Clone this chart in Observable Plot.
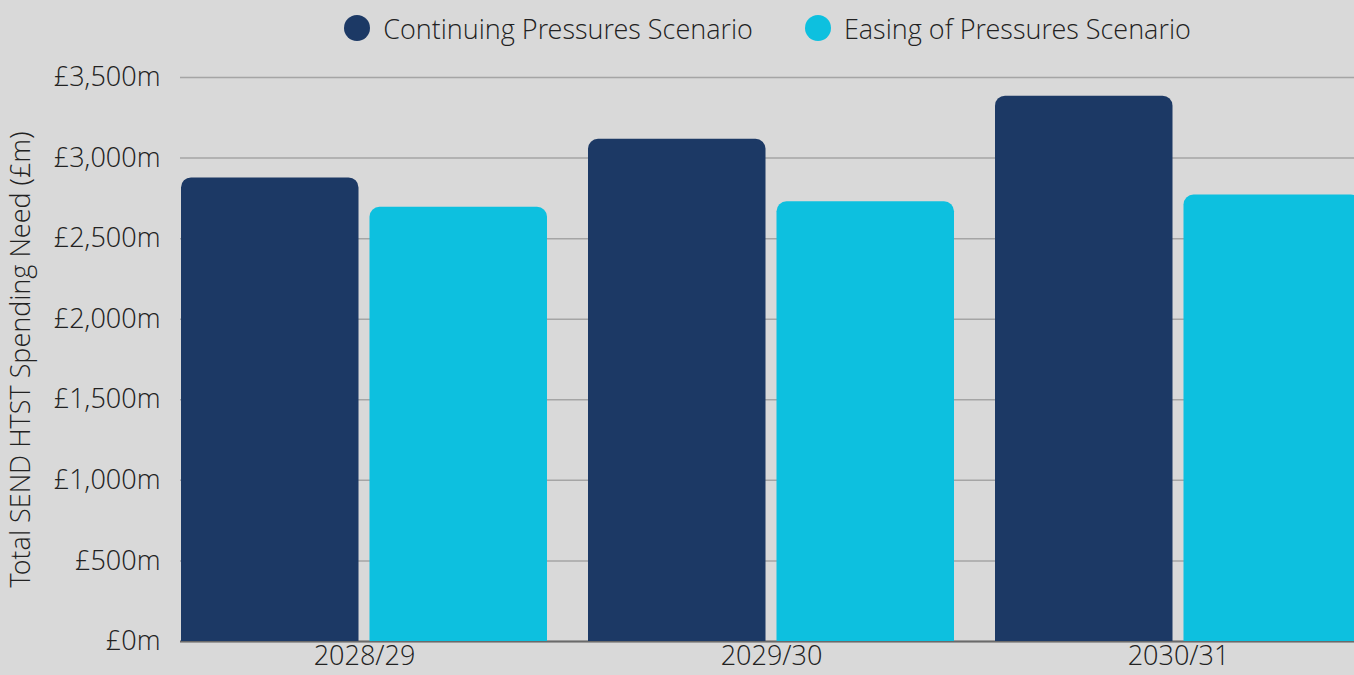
<!DOCTYPE html>
<html>
<head>
<meta charset="utf-8">
<script src="https://cdn.jsdelivr.net/npm/d3@7"></script>
<script src="https://cdn.jsdelivr.net/npm/@observablehq/plot@0.6"></script>
<style>
  html, body { margin: 0; padding: 0; background: #d9d9d9; overflow: hidden; }
  body { width: 1354px; height: 675px; font-family: "Open Sans Light", "Open Sans", sans-serif; font-weight: 300; color: #222; }
  .legend { height: 56px; margin-left: 176px; width: 1183px; display: flex; justify-content: center; align-items: center; font-size: 27px; }
  .legend .item { display: flex; align-items: center; }
  .legend .item + .item { margin-left: 52px; }
  .legend .swatch { width: 26px; height: 26px; border-radius: 50%; margin-right: 13px; }
  #chart svg { display: block; }
</style>
</head>
<body>
<div class="legend" id="legend"></div>
<div id="chart"></div>
<script>
// Financial years and spending need (£m) under each scenario
const years = ["2028/29", "2029/30", "2030/31"];
const scenarios = ["Continuing Pressures Scenario", "Easing of Pressures Scenario"];
const continuing = [2877, 3117, 3384];
const easing = [2695, 2729, 2771];
const yTicks = [0, 500, 1000, 1500, 2000, 2500, 3000, 3500];
const yLabel = "Total SEND HTST Spending Need (£m)";
const colors = ["#1c3965", "#0dc0df"];

const rows = years.flatMap((year, i) => [
  {year, scenario: scenarios[0], value: continuing[i]},
  {year, scenario: scenarios[1], value: easing[i]}
]);

// Legend
const legend = document.getElementById("legend");
scenarios.forEach((s, i) => {
  const item = document.createElement("div");
  item.className = "item";
  item.innerHTML = `<span class="swatch" style="background:${colors[i]}"></span><span>${s}</span>`;
  legend.appendChild(item);
});

const fmt = d3.format(",");
const barRadius = {ry1: 10};

const chart = Plot.plot({
  width: 1354,
  height: 619,
  marginTop: 21,
  marginBottom: 34,
  marginLeft: 180,
  marginRight: -9,
  style: {background: "transparent", fontFamily: "'Open Sans Light', 'Open Sans'", fontWeight: 300, fontSize: "27px", color: "#222"},
  x: {domain: years, paddingInner: 0.1, paddingOuter: 0, label: null},
  y: {domain: [0, 3500], label: null},
  color: {domain: scenarios, range: colors},
  marks: [
    Plot.gridY({ticks: yTicks, stroke: "#a5a5a5", strokeOpacity: 1, strokeWidth: 1.5}),
    Plot.ruleY([0], {stroke: "#6a6a6a", strokeWidth: 2}),
    Plot.barY(rows.filter(d => d.scenario === scenarios[0]), {
      x: "year", y: "value", fill: "scenario", insetRight: 188.5, ...barRadius
    }),
    Plot.barY(rows.filter(d => d.scenario === scenarios[1]), {
      x: "year", y: "value", fill: "scenario", insetLeft: 188.5, ...barRadius
    }),
    Plot.axisY({
      ticks: yTicks, tickSize: 0, tickPadding: 20,
      tickFormat: d => `£${fmt(d)}m`,
      label: yLabel, labelAnchor: "center", labelOffset: 170, labelArrow: "none"
    }),
    Plot.axisX({tickSize: 0, tickPadding: 4, label: null})
  ]
});
document.getElementById("chart").appendChild(chart);
</script>
</body>
</html>
